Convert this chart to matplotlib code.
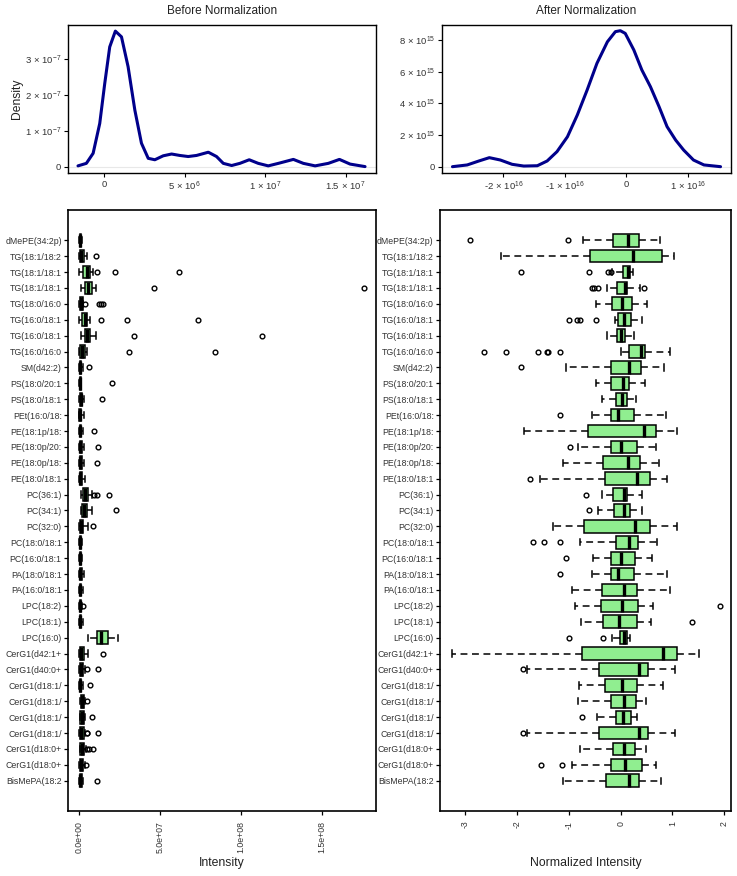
import matplotlib
matplotlib.use("Agg")
import matplotlib.pyplot as plt

plt.rcParams["font.family"] = ["Liberation Sans", "DejaVu Sans"]
plt.rcParams["mathtext.fontset"] = "custom"
plt.rcParams["mathtext.rm"] = "Liberation Sans"
plt.rcParams["mathtext.it"] = "Liberation Sans:italic"

# lipid labels, top to bottom
labels = [
    "dMePE(34:2p)", "TG(18:1/18:2", "TG(18:1/18:1", "TG(18:1/18:1", "TG(18:0/16:0",
    "TG(16:0/18:1", "TG(16:0/18:1", "TG(16:0/16:0", "SM(d42:2)", "PS(18:0/20:1",
    "PS(18:0/18:1", "PEt(16:0/18:", "PE(18:1p/18:", "PE(18:0p/20:", "PE(18:0p/18:",
    "PE(18:0/18:1", "PC(36:1)", "PC(34:1)", "PC(32:0)", "PC(18:0/18:1",
    "PC(16:0/18:1", "PA(18:0/18:1", "PA(16:0/18:1", "LPC(18:2)", "LPC(18:1)",
    "LPC(16:0)", "CerG1(d42:1+", "CerG1(d40:0+", "CerG1(d18:1/", "CerG1(d18:1/",
    "CerG1(d18:1/", "CerG1(d18:1/", "CerG1(d18:0+", "CerG1(d18:0+", "BisMePA(18:2",
]

# raw intensity, millions: whislo, q1, med, q3, whishi
raw_box = [
    [0.1, 0.3, 0.6, 1.0, 1.6], [0.2, 0.5, 1.2, 2.8, 4.7], [0.0, 2.7, 4.9, 6.8, 8.6],
    [1.4, 3.5, 5.7, 8.0, 10.3], [0.1, 0.4, 1.0, 2.2, 2.6], [0.2, 2.0, 3.5, 5.1, 6.8],
    [1.2, 3.7, 5.1, 6.8, 10.3], [0.0, 0.5, 1.6, 3.6, 4.7], [0.0, 0.3, 0.6, 1.2, 2.3],
    [0.1, 0.3, 0.6, 1.0, 1.4], [0.1, 0.6, 1.2, 2.0, 3.1], [0.0, 0.2, 0.5, 1.1, 2.8],
    [0.1, 0.3, 0.7, 1.3, 2.5], [0.1, 0.4, 0.9, 1.7, 2.8], [0.1, 0.4, 0.8, 1.6, 2.8],
    [0.1, 0.4, 0.9, 1.8, 3.5], [1.2, 2.2, 3.8, 5.3, 7.8], [1.2, 2.0, 3.0, 4.9, 7.8],
    [0.0, 0.4, 1.0, 2.6, 5.7], [0.1, 0.3, 0.7, 1.3, 2.0], [0.1, 0.3, 0.7, 1.3, 2.0],
    [0.1, 0.4, 0.9, 1.8, 3.1], [0.0, 0.3, 0.7, 1.3, 2.3], [0.0, 0.3, 0.6, 1.1, 1.6],
    [0.0, 0.3, 0.7, 1.3, 2.2], [5.7, 10.9, 13.8, 17.7, 23.9], [0.1, 0.5, 1.2, 3.1, 5.7],
    [0.1, 0.4, 1.0, 2.3, 4.0], [0.0, 0.3, 0.7, 1.5, 2.5], [0.6, 1.2, 2.0, 3.0, 3.9],
    [0.4, 0.8, 1.6, 2.8, 3.4], [0.1, 0.5, 1.3, 2.9, 4.0], [0.4, 0.9, 1.8, 3.3, 4.3],
    [0.2, 0.6, 1.3, 2.5, 3.6], [0.1, 0.4, 0.9, 1.8, 2.7],
]
raw_out = [
    [], [10.3], [11.1, 22.2, 61.9], [46.3, 176.0], [3.7, 12.5, 13.4, 14.6],
    [13.4, 29.6, 73.4], [34.1, 113.2], [31.1, 83.7], [6.4], [20.6],
    [14.4], [], [9.5], [11.9], [10.9],
    [], [9.3, 10.9, 18.7], [22.6], [8.8], [],
    [], [], [], [2.7], [],
    [], [14.6], [4.7, 11.9], [6.8], [4.7],
    [8.2], [4.7, 5.1, 11.9], [5.1, 6.4, 8.4], [4.4], [10.9],
]

# normalized intensity: whislo, q1, med, q3, whishi
norm_box = [
    [-0.72, -0.155, 0.135, 0.36, 0.75], [-2.31, -0.59, 0.245, 0.80, 1.03],
    [-0.16, 0.05, 0.135, 0.18, 0.245], [-0.26, -0.064, 0.084, 0.13, 0.37],
    [-0.48, -0.16, 0.02, 0.21, 0.50], [-0.11, -0.045, 0.064, 0.19, 0.405],
    [-0.26, -0.07, 0.0, 0.09, 0.26], [0.0, 0.154, 0.39, 0.476, 0.95],
    [-1.06, -0.19, 0.167, 0.39, 0.84], [-0.48, -0.19, 0.05, 0.167, 0.476],
    [-0.37, -0.09, 0.03, 0.12, 0.29], [-0.56, -0.18, -0.06, 0.26, 0.875],
    [-1.86, -0.64, 0.45, 0.676, 1.09], [-0.83, -0.18, 0.0, 0.31, 0.68],
    [-1.11, -0.35, 0.135, 0.373, 0.73], [-1.56, -0.31, 0.31, 0.57, 0.89],
    [-0.37, -0.14, 0.07, 0.13, 0.405], [-0.43, -0.12, 0.064, 0.18, 0.405],
    [-1.31, -0.71, 0.28, 0.57, 1.08], [-0.785, -0.097, 0.154, 0.335, 0.71],
    [-0.53, -0.18, 0.013, 0.277, 0.60], [-0.56, -0.19, -0.06, 0.26, 0.89],
    [-0.95, -0.37, 0.064, 0.31, 0.95], [-0.88, -0.39, 0.02, 0.33, 0.62],
    [-0.77, -0.35, -0.04, 0.31, 0.585], [-0.16, -0.013, 0.07, 0.116, 0.18],
    [-3.26, -0.75, 0.82, 1.08, 1.52], [-1.81, -0.41, 0.36, 0.53, 1.04],
    [-0.80, -0.30, 0.026, 0.32, 0.82], [-0.82, -0.18, 0.07, 0.30, 0.49],
    [-0.45, -0.097, 0.05, 0.20, 0.31], [-1.81, -0.41, 0.36, 0.53, 1.04],
    [-0.785, -0.155, 0.07, 0.277, 0.49], [-0.95, -0.19, 0.084, 0.405, 0.676],
    [-1.12, -0.28, 0.167, 0.36, 0.77],
]
norm_out = [
    [-2.91, -1.01], [], [-1.93, -0.62, -0.24, -0.19], [-0.56, -0.51, -0.44, 0.45], [],
    [-0.99, -0.84, -0.79, -0.48], [], [-2.64, -2.22, -1.60, -1.43, -1.40, -1.17], [-1.93], [],
    [], [-1.17], [], [-0.97], [],
    [-1.75], [-0.68], [-0.62], [], [-1.70, -1.48, -1.17],
    [-1.06], [-1.17], [], [1.92], [1.37],
    [-1.0, -0.35], [], [-1.88], [], [],
    [-0.75], [-1.88], [], [-1.54, -1.13], [],
]

# density curves
before_x = [-1.62, -1.10, -0.68, -0.27, 0.04, 0.35, 0.70, 1.08, 1.49, 1.91, 2.32, 2.74,
            3.15, 3.67, 4.19, 4.70, 5.22, 5.74, 6.47, 6.98, 7.40, 7.92, 8.43, 9.01,
            9.57, 10.19, 10.82, 11.75, 12.37, 13.10, 13.92, 14.61, 15.27, 16.20]  # 1e6
before_y = [0.02, 0.09, 0.37, 1.20, 2.31, 3.33, 3.77, 3.61, 2.78, 1.57, 0.65, 0.23,
            0.19, 0.30, 0.35, 0.31, 0.28, 0.31, 0.40, 0.28, 0.09, 0.03, 0.09, 0.19,
            0.09, 0.02, 0.09, 0.20, 0.09, 0.02, 0.09, 0.20, 0.07, 0.0]  # 1e-7
after_x = [-2.83, -2.59, -2.40, -2.23, -2.05, -1.86, -1.67, -1.45, -1.29, -1.13, -0.96,
           -0.80, -0.64, -0.48, -0.31, -0.18, -0.10, -0.02, 0.12, 0.25, 0.39, 0.53,
           0.66, 0.80, 0.93, 1.09, 1.26, 1.53]  # 1e16
after_y = [0.0, 0.11, 0.36, 0.57, 0.42, 0.15, 0.04, 0.06, 0.36, 0.95, 1.89, 3.26, 4.84,
           6.53, 7.89, 8.53, 8.59, 8.42, 7.37, 6.11, 5.05, 3.79, 2.53, 1.68, 1.05, 0.42,
           0.11, 0.0]

W, H = 737, 876
fig = plt.figure(figsize=(W / 100, H / 100), dpi=100)


def add_ax(l, t, r, b):
    return fig.add_axes([l / W, 1 - b / H, (r - l) / W, (b - t) / H])


tick_fs = 6.3
lab_col = "#333333"


def sci(m, e):
    return r"$%s\,\times\,10^{%s}$" % (m, e)


def density(ax, xs, ys, title, xticks, xlabels, yticks, ylabels, xlim, ylim):
    ax.axhline(0, color="#e8e8e8", lw=0.8, zorder=0)
    ax.plot(xs, ys, color="#00008B", lw=2.2, solid_capstyle="round",
            solid_joinstyle="round")
    ax.set_xlim(*xlim)
    ax.set_ylim(*ylim)
    ax.set_xticks(xticks, xlabels)
    ax.set_yticks(yticks, ylabels)
    ax.tick_params(labelsize=6.8, labelcolor=lab_col, length=3, width=0.8, pad=2)
    ax.set_title(title, fontsize=8.5, pad=8, color="#222222")
    for s in ax.spines.values():
        s.set_linewidth(1.0)


ax1 = add_ax(68, 25, 376, 172.7)
density(ax1, before_x, before_y, "Before Normalization",
        [0, 5, 10, 15],
        ["0", sci("5", "6"), sci("1", "7"), sci("1.5", "7")],
        [0, 1, 2, 3],
        ["0", sci("1", "-7"), sci("2", "-7"), sci("3", "-7")],
        (-2.24, 16.88), (-0.17, 3.94))
ax1.set_ylabel("Density", fontsize=8.7, color="#222222", va="center")
ax1.yaxis.set_label_coords(-0.167, 0.5)

ax2 = add_ax(442, 25, 731, 172.7)
density(ax2, after_x, after_y, "After Normalization",
        [-2, -1, 0, 1],
        ["-" + sci("2", "16"), "-" + sci("1", "16"), "0", sci("1", "16")],
        [0, 2, 4, 6, 8],
        ["0", sci("2", "15"), sci("4", "15"), sci("6", "15"), sci("8", "15")],
        (-3.0, 1.70), (-0.38, 8.95))

n = len(labels)
positions = list(range(n, 0, -1))


def boxes(ax, box, out, scale, xlim, xticks, xlabels, xlabel):
    stats = []
    for b, o in zip(box, out):
        stats.append(dict(whislo=b[0] * scale, q1=b[1] * scale, med=b[2] * scale,
                          q3=b[3] * scale, whishi=b[4] * scale,
                          fliers=[v * scale for v in o]))
    ax.bxp(stats, positions=positions, orientation="horizontal", widths=0.8,
           patch_artist=True, capwidths=0.4,
           boxprops=dict(facecolor="#90EE90", edgecolor="black", linewidth=1.1),
           whiskerprops=dict(color="black", linewidth=1.1, linestyle=(0, (4.5, 3))),
           capprops=dict(color="black", linewidth=1.1),
           medianprops=dict(color="black", linewidth=2.4, solid_capstyle="butt"),
           flierprops=dict(marker="o", markersize=3.4, markerfacecolor="none",
                           markeredgecolor="black", markeredgewidth=1.0))
    ax.set_ylim(0.5 - 0.04 * n, n + 0.5 + 0.04 * n)
    ax.set_yticks(positions, labels)
    ax.set_xlim(*xlim)
    ax.set_xticks(xticks, xlabels, rotation=90)
    ax.tick_params(axis="y", labelsize=tick_fs, labelcolor=lab_col, length=3, width=0.9, pad=1.5)
    ax.tick_params(axis="x", labelsize=tick_fs, labelcolor=lab_col, length=3, width=0.9, pad=4)
    ax.set_xlabel(xlabel, fontsize=8.8, color="#222222", va="center")
    ax.xaxis.set_label_coords(0.5, -0.086)
    for s in ax.spines.values():
        s.set_linewidth(1.2)


ax3 = add_ax(68, 210, 376, 811)
boxes(ax3, raw_box, raw_out, 1e6, (-6.8e6, 183.3e6),
      [0, 5e7, 1e8, 1.5e8], ["0.0e+00", "5.0e+07", "1.0e+08", "1.5e+08"], "Intensity")

ax4 = add_ax(440, 210, 731, 811)
boxes(ax4, norm_box, norm_out, 1.0, (-3.49, 2.13),
      [-3, -2, -1, 0, 1, 2], ["-3", "-2", "-1", "0", "1", "2"], "Normalized Intensity")

fig.savefig("out.png", dpi=100)
